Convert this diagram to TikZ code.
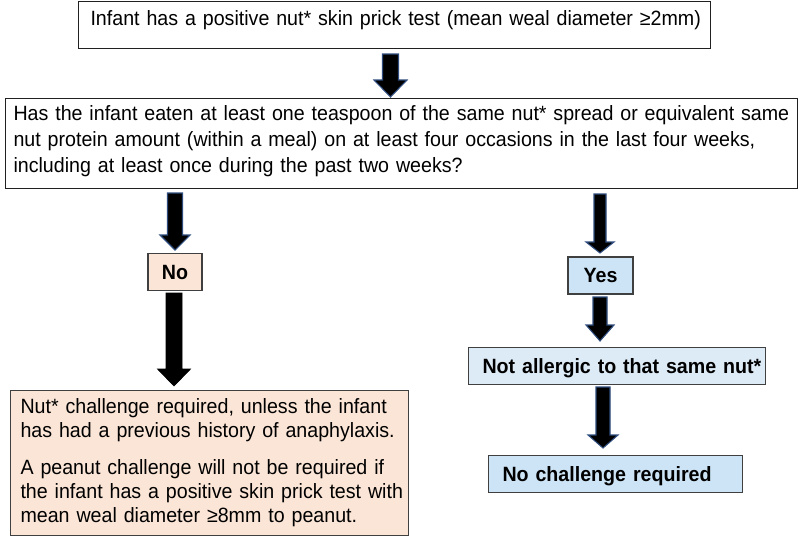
\documentclass[tikz,border=0pt]{standalone}
\usepackage{fontspec}
\setmainfont[FakeStretch=0.95]{Liberation Sans}
\usetikzlibrary{calc}
\definecolor{peach}{HTML}{FBE5D6}
\definecolor{lblue}{HTML}{CCE4F5}
\definecolor{pblue}{HTML}{DDEBF7}
\definecolor{abord}{HTML}{2F4D7E}
\definecolor{bord}{HTML}{404040}
\definecolor{dbord}{HTML}{202020}
% #1 style, #2 start coord, #3 tip coord, #4 shaft half width (px), #5 head half width (px), #6 head length (px)
\newcommand\blockarrow[6]{%
  \path[#1] let \p1=(#2), \p2=(#3) in
    (\x2-#4*0.75pt,\y1) -- (\x2+#4*0.75pt,\y1) -- (\x2+#4*0.75pt,\y2+#6*0.75pt)
    -- (\x2+#5*0.75pt,\y2+#6*0.75pt) -- (\x2,\y2) -- (\x2-#5*0.75pt,\y2+#6*0.75pt)
    -- (\x2-#4*0.75pt,\y2+#6*0.75pt) -- cycle;}
\begin{document}
\begin{tikzpicture}[x=0.75pt,y=-0.75pt,
  box/.style={draw=bord, line width=0.8pt, inner ysep=0pt, anchor=north west, align=left},
  txt/.style={font=\fontsize{15.5}{19.5}\selectfont},
  sbox/.style={draw=bord, line width=0.8pt, inner sep=0pt, text height=11pt, text depth=0pt,
    minimum height=27.75pt, font=\bfseries\fontsize{15.5}{18}\selectfont},
  barr/.style={fill=black, draw=abord, line width=0.8pt, line join=miter},
  karr/.style={fill=black, draw=black, line width=0.5pt, line join=miter},
]
\useasboundingbox (0,0) rectangle (800,536);

\node[box, txt, draw=dbord, fill=white, inner xsep=9pt, text width=456pt, text height=18pt, text depth=17.25pt]
  (q0) at (78,1) {\mbox{Infant has a positive nut* skin prick test (mean weal diameter ≥2mm)}};

\node[box, txt, draw=dbord, fill=white, inner xsep=6pt, text width=582pt, text height=16.5pt, text depth=51pt]
  (q1) at (5,98) {\mbox{Has the infant eaten at least one teaspoon of the same nut* spread or equivalent same}\\
  \mbox{nut protein amount (within a meal) on at least four occasions in the last four weeks,}\\
  \mbox{including at least once during the past two weeks?}};

\node[sbox, fill=peach, minimum width=40.5pt] (no) at (175,272) {No};
\node[sbox, fill=lblue, minimum width=48.75pt] (yes) at (600.5,275.5) {Yes};

\node[box, fill=peach, inner xsep=7.5pt, text width=283.5pt, text height=17.25pt, text depth=91.5pt,
  font=\fontsize{15.5}{18}\selectfont]
  (chal) at (10,390) {\mbox{Nut* challenge required, unless the infant}\\
  \mbox{has had a previous history of anaphylaxis.}\\[9.75pt]
  \mbox{A peanut challenge will not be required if}\\
  \mbox{the infant has a positive skin prick test with}\\
  \mbox{mean weal diameter ≥8mm to peanut.}};

\node[sbox, fill=pblue, anchor=north west, align=left, inner xsep=10.5pt, text width=201.75pt]
  (na) at (468,347) {\mbox{Not allergic to that same nut*}};
\node[sbox, fill=lblue, anchor=north west, align=left, inner xsep=10.5pt, text width=169.5pt]
  (nc) at (488,455) {\mbox{No challenge required}};

\coordinate (a1s) at (390.5,54);  \coordinate (a1e) at (390.5,97);
\coordinate (a2s) at (175,193);   \coordinate (a2e) at (175,250);
\coordinate (a3s) at (174,293);   \coordinate (a3e) at (174,386);
\coordinate (a4s) at (600,194);   \coordinate (a4e) at (600,253);
\coordinate (a5s) at (600,297);   \coordinate (a5e) at (600,341);
\coordinate (a6s) at (603,387);   \coordinate (a6e) at (603,448);

\blockarrow{barr}{a1s}{a1e}{8}{16.5}{17}
\blockarrow{barr}{a2s}{a2e}{7.5}{15}{15}
\blockarrow{karr}{a3s}{a3e}{8}{16.5}{17}
\blockarrow{barr}{a4s}{a4e}{6}{14}{11}
\blockarrow{barr}{a5s}{a5e}{7}{14}{16}
\blockarrow{barr}{a6s}{a6e}{7}{15}{13}
\end{tikzpicture}
\end{document}
